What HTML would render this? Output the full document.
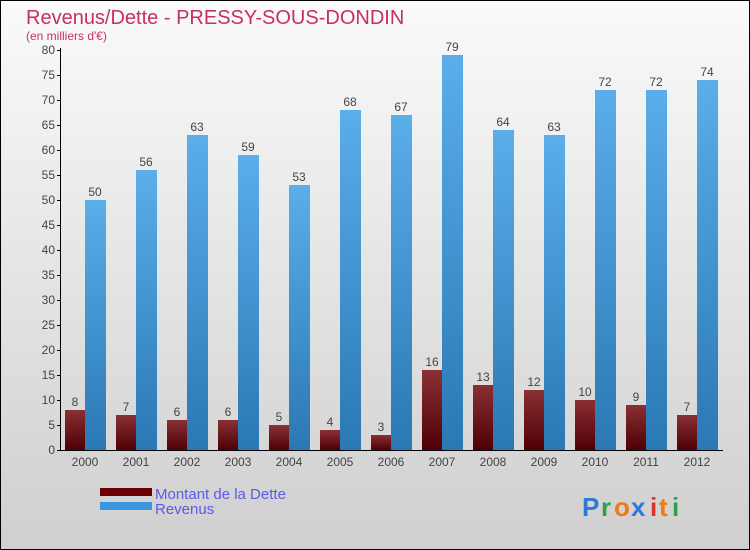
<!DOCTYPE html>
<html><head><meta charset="utf-8"><style>
body{margin:0}
svg{display:block;font-family:"Liberation Sans",sans-serif}
</style></head><body>
<svg id="c" width="750" height="550" xmlns="http://www.w3.org/2000/svg">
<defs>
<linearGradient id="bg" x1="0" y1="0" x2="0" y2="1"><stop offset="0" stop-color="#fafafa"/><stop offset="1" stop-color="#cfcfcf"/></linearGradient>
<linearGradient id="gd" x1="0" y1="0" x2="0" y2="1"><stop offset="0" stop-color="#8a3034"/><stop offset="1" stop-color="#4e0006"/></linearGradient>
<linearGradient id="gr" x1="0" y1="0" x2="0" y2="1"><stop offset="0" stop-color="#5aaeea"/><stop offset="1" stop-color="#2a78b4"/></linearGradient>
</defs>
<rect x="0.5" y="0.5" width="749" height="549" fill="url(#bg)" stroke="#000"/>
<text x="26" y="24" font-size="20" fill="#c8305e">Revenus/Dette - PRESSY-SOUS-DONDIN</text>
<text x="26" y="40" font-size="12" fill="#c8305e">(en milliers d'€)</text>
<g id="grid"></g>
<g id="bars"></g>
<line x1="60.5" y1="48" x2="60.5" y2="450" stroke="#000"/>
<line x1="60" y1="450.5" x2="723" y2="450.5" stroke="#000"/>
<rect x="100" y="488" width="52" height="8" fill="#6a0006"/>
<text x="155" y="499" font-size="15" fill="#5a5ae8">Montant de la Dette</text>
<rect x="100" y="502" width="52" height="8" fill="#3a96de"/>
<text x="155" y="514" font-size="15" fill="#5a5ae8">Revenus</text>
<g font-size="26" font-weight="bold">
<text x="582" y="516" fill="#2a7ad6">P</text><text x="601" y="516" fill="#2aa050">r</text><text x="614" y="516" fill="#f07a10">o</text><text x="631" y="516" fill="#2a7ad6">x</text><text x="650" y="516" fill="#e03030">i</text><text x="659" y="516" fill="#f07a10">t</text><text x="672" y="516" fill="#2aa050">i</text>
</g>
</svg>
<script>
const years=["2000","2001","2002","2003","2004","2005","2006","2007","2008","2009","2010","2011","2012"];
const dette=[8,7,6,6,5,4,3,16,13,12,10,9,7];
const revenus=[50,56,63,59,53,68,67,79,64,63,72,72,74];
const yTicks=[0,5,10,15,20,25,30,35,40,45,50,55,60,65,70,75,80];
const NS="http://www.w3.org/2000/svg";
const y=v=>450-v*5;
const xc=i=>85+i*51;
function mk(tag,attrs,parent,txt){const e=document.createElementNS(NS,tag);for(const k in attrs)e.setAttribute(k,attrs[k]);if(txt!==undefined)e.textContent=txt;parent.appendChild(e);return e;}
const g=document.getElementById('grid'),b=document.getElementById('bars');
yTicks.forEach(t=>{
 const l=mk('line',{x1:57,x2:61,y1:y(t)+0.5,y2:y(t)+0.5,stroke:'#000'},g);
 
 
 const tx=mk('text',{x:55,y:y(t)+4,'font-size':12,fill:'#444','text-anchor':'end'},g,t);
 
 
});
years.forEach((yr,i)=>{
 const c=xc(i);
 const r1=mk('rect',{x:c-20,y:y(dette[i]),width:20,height:dette[i]*5,fill:'url(#gd)'},b);
 
 
 const r2=mk('rect',{x:c,y:y(revenus[i]),width:21,height:revenus[i]*5,fill:'url(#gr)'},b);
 
 
 const l1=mk('text',{x:c-10,y:y(dette[i])-4,'font-size':12,fill:'#444','text-anchor':'middle'},b,dette[i]);
 
 
 const l2=mk('text',{x:c+10,y:y(revenus[i])-4,'font-size':12,fill:'#444','text-anchor':'middle'},b,revenus[i]);
 
 
 const xl=mk('text',{x:c,y:466,'font-size':12,fill:'#444','text-anchor':'middle'},b,yr);
 
 
});
</script>
</body></html>
